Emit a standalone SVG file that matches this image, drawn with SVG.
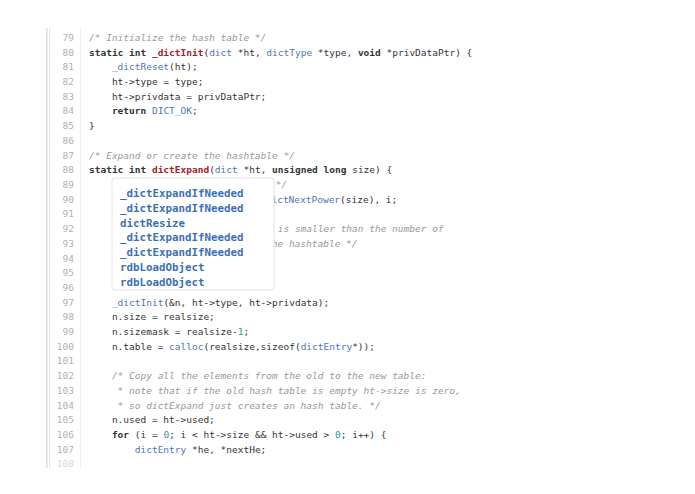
<svg xmlns="http://www.w3.org/2000/svg" width="695" height="494" viewBox="0 0 695 494">
<style>
text{font-family:"DejaVu Sans Mono","Liberation Mono",monospace;font-size:9.5px;fill:#333;white-space:pre}
.n{fill:#b0b0b0;text-anchor:end}
.c{fill:#999;font-style:italic}
.k{font-weight:bold;fill:#333}
.f{font-weight:bold;fill:#a0222a}
.b{fill:#4a78b5}
.g{fill:#2a9d8f}
.p{font-size:10.8px;fill:#3d6fb4;font-weight:bold}
</style>
<rect width="695" height="494" fill="#fff"/>
<g id="gutter">
<rect x="46" y="28" width="1.5" height="440" fill="#ddd"/>
<rect x="49" y="28" width="1" height="440" fill="#e4e4e4"/>
<rect x="80" y="28" width="1" height="440" fill="#eee"/>
<text class="n" x="74" y="41">79</text><text class="n" x="74" y="56">80</text><text class="n" x="74" y="70">81</text><text class="n" x="74" y="85">82</text><text class="n" x="74" y="100">83</text><text class="n" x="74" y="114">84</text><text class="n" x="74" y="129">85</text><text class="n" x="74" y="144">86</text><text class="n" x="74" y="159">87</text><text class="n" x="74" y="173">88</text><text class="n" x="74" y="188">89</text><text class="n" x="74" y="203">90</text><text class="n" x="74" y="217">91</text><text class="n" x="74" y="232">92</text><text class="n" x="74" y="247">93</text><text class="n" x="74" y="262">94</text><text class="n" x="74" y="276">95</text><text class="n" x="74" y="291">96</text><text class="n" x="74" y="306">97</text><text class="n" x="74" y="320">98</text><text class="n" x="74" y="335">99</text><text class="n" x="74" y="350">100</text><text class="n" x="74" y="364">101</text><text class="n" x="74" y="379">102</text><text class="n" x="74" y="394">103</text><text class="n" x="74" y="409">104</text><text class="n" x="74" y="423">105</text><text class="n" x="74" y="438">106</text><text class="n" x="74" y="453">107</text><text class="n" x="74" y="467" opacity="0.5">108</text>
</g>
<g id="code">
<text class="c" x="89" y="41">/* Initialize the hash table */</text>
<text x="89" y="56"><tspan class="k">static int </tspan><tspan class="f">_dictInit</tspan>(<tspan class="b">dict</tspan> *ht, <tspan class="b">dictType</tspan> *type, <tspan class="k">void</tspan> *privDataPtr) {</text>
<text x="89" y="70">    <tspan class="b">_dictReset</tspan>(ht);</text>
<text x="89" y="85">    ht-&gt;type = type;</text>
<text x="89" y="100">    ht-&gt;privdata = privDataPtr;</text>
<text x="89" y="114">    <tspan class="k">return</tspan> <tspan class="b">DICT_OK</tspan>;</text>
<text x="89" y="129">}</text>
<text class="c" x="89" y="159">/* Expand or create the hashtable */</text>
<text x="89" y="173"><tspan class="k">static int </tspan><tspan class="f">dictExpand</tspan>(<tspan class="b">dict</tspan> *ht, <tspan class="k">unsigned long</tspan> size) {</text>
<text class="c" x="264" y="188">  */</text>
<text x="260" y="203"><tspan class="b">_dictNextPower</tspan>(size), i;</text>
<text class="c" x="272" y="232"> is smaller than the number of</text>
<text class="c" x="266" y="247">the hashtable */</text>
<text x="89" y="306">    <tspan class="b">_dictInit</tspan>(&amp;n, ht-&gt;type, ht-&gt;privdata);</text>
<text x="89" y="320">    n.size = realsize;</text>
<text x="89" y="335">    n.sizemask = realsize-<tspan class="g">1</tspan>;</text>
<text x="89" y="350">    n.table = <tspan class="b">calloc</tspan>(realsize,sizeof(<tspan class="b">dictEntry</tspan>*));</text>
<text class="c" x="89" y="379">    /* Copy all the elements from the old to the new table:</text>
<text class="c" x="89" y="394">     * note that if the old hash table is empty ht-&gt;size is zero,</text>
<text class="c" x="89" y="409">     * so dictExpand just creates an hash table. */</text>
<text x="89" y="423">    n.used = ht-&gt;used;</text>
<text x="89" y="438">    <tspan class="k">for</tspan> (i = <tspan class="g">0</tspan>; i &lt; ht-&gt;size &amp;&amp; ht-&gt;used &gt; <tspan class="g">0</tspan>; i++) {</text>
<text x="89" y="453">        <tspan class="b">dictEntry</tspan> *he, *nextHe;</text>
</g>
<g id="popup">
<rect x="112" y="178" width="162" height="112" rx="3" fill="#fff" stroke="#e2e2e2"/>
<text class="p" x="120" y="197">_dictExpandIfNeeded</text>
<text class="p" x="120" y="212">_dictExpandIfNeeded</text>
<text class="p" x="120" y="227">dictResize</text>
<text class="p" x="120" y="241">_dictExpandIfNeeded</text>
<text class="p" x="120" y="256">_dictExpandIfNeeded</text>
<text class="p" x="120" y="271">rdbLoadObject</text>
<text class="p" x="120" y="286">rdbLoadObject</text>
</g>
<g id="connectors"/>
</svg>
